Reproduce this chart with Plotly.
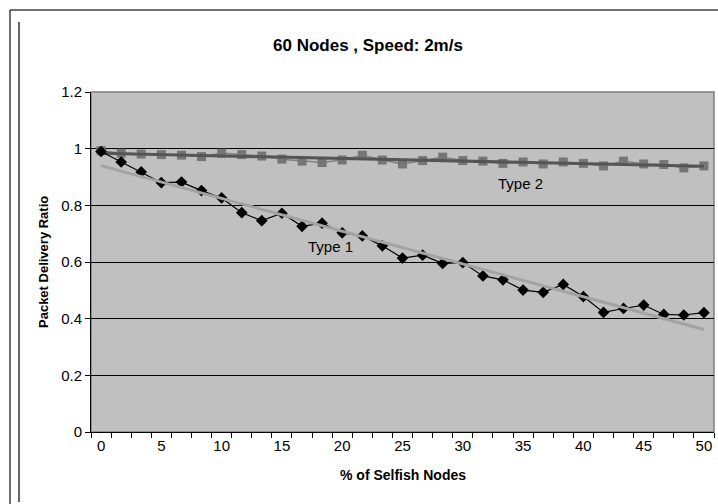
import numpy as np
import plotly.graph_objects as go

# % of selfish nodes (0..30 of 60 nodes)
pct = [0, 1.67, 3.33, 5, 6.67, 8.33, 10, 11.67, 13.33, 15, 16.67, 18.33, 20, 21.67, 23.33,
       25, 26.67, 28.33, 30, 31.67, 33.33, 35, 36.67, 38.33, 40, 41.67, 43.33, 45, 46.67, 48.33, 50]

type1 = [0.99, 0.953, 0.918, 0.88, 0.882, 0.852, 0.826, 0.774, 0.746, 0.772, 0.726, 0.737,
         0.703, 0.692, 0.657, 0.614, 0.624, 0.595, 0.598, 0.551, 0.537, 0.501, 0.493, 0.521,
         0.478, 0.422, 0.436, 0.448, 0.415, 0.413, 0.421]

type2 = [0.993, 0.984, 0.981, 0.979, 0.977, 0.972, 0.984, 0.979, 0.974, 0.963, 0.956, 0.951,
         0.960, 0.977, 0.960, 0.946, 0.958, 0.970, 0.958, 0.956, 0.948, 0.953, 0.946, 0.953,
         0.948, 0.939, 0.956, 0.946, 0.944, 0.932, 0.939]

x_ticks = [0, 5, 10, 15, 20, 25, 30, 35, 40, 45, 50]
y_ticks = [0, 0.2, 0.4, 0.6, 0.8, 1.0, 1.2]
y_labels = ["0", "0.2", "0.4", "0.6", "0.8", "1", "1.2"]

xa = np.array(pct)
fit1 = np.polyval(np.polyfit(xa, type1, 1), xa)
fit2 = np.polyval(np.polyfit(xa, type2, 1), xa)

FONT = "Liberation Sans, Arial, sans-serif"

fig = go.Figure()
fig.add_trace(go.Scatter(x=pct, y=type2, mode="lines+markers",
                         line=dict(color="#7f7f7f", width=1.5),
                         marker=dict(symbol="square", size=9, color="#767676"),
                         showlegend=False))
fig.add_trace(go.Scatter(x=pct, y=fit2, mode="lines",
                         line=dict(color="#555555", width=3), showlegend=False))
fig.add_trace(go.Scatter(x=pct, y=type1, mode="lines+markers",
                         line=dict(color="black", width=1.2),
                         marker=dict(symbol="diamond", size=9, color="black"),
                         showlegend=False))
fig.add_trace(go.Scatter(x=pct, y=fit1, mode="lines",
                         line=dict(color="#a3a3a3", width=3), showlegend=False))

W, H = 718, 504
L, R, T, B = 91, 4, 92, 72
pw = W - L - R
ph = H - T - B

def px(xpix):
    return (xpix - L) / pw

def py(ypix):
    return 1 - (ypix - T) / ph

fig.update_layout(
    width=W, height=H,
    margin=dict(l=L, r=R, t=T, b=B),
    paper_bgcolor="white",
    plot_bgcolor="#c0c0c0",
    font=dict(family=FONT, size=15, color="black"),
    xaxis=dict(range=[-5/6, 50 + 5/6], tickvals=x_ticks, ticktext=[str(v) for v in x_ticks],
               ticks="", showgrid=False, zeroline=False,
               showline=True, linecolor="black", linewidth=1,
               tickfont=dict(size=15),
               minor=dict(tickmode="linear", tick0=-5/6, dtick=5/3, ticks="outside",
                          ticklen=5, tickcolor="black", tickwidth=1, showgrid=False)),
    yaxis=dict(range=[0, 1.2], tickvals=y_ticks, ticktext=y_labels,
               ticks="outside", ticklen=5, tickcolor="black",
               showgrid=True, gridcolor="black", gridwidth=1, zeroline=False,
               showline=True, linecolor="black", linewidth=1,
               tickfont=dict(size=15)),
    shapes=[
        dict(type="rect", xref="paper", yref="paper", x0=0, x1=1, y0=0, y1=1,
             line=dict(color="#808080", width=1.5), layer="below"),
        dict(type="line", xref="paper", yref="paper", x0=px(10), x1=px(730), y0=py(10), y1=py(10),
             line=dict(color="#404040", width=1.5)),
        dict(type="line", xref="paper", yref="paper", x0=px(10), x1=px(10), y0=py(10), y1=py(520),
             line=dict(color="#404040", width=1.5)),
        dict(type="line", xref="paper", yref="paper", x0=px(19), x1=px(19), y0=py(22), y1=py(502),
             line=dict(color="black", width=1.2)),
    ],
    annotations=[
        dict(text="<b>60 Nodes , Speed: 2m/s</b>", xref="paper", yref="paper",
             x=px(368), y=py(45), showarrow=False, font=dict(size=17), xanchor="center", yanchor="middle"),
        dict(text="<b>% of Selfish Nodes</b>", xref="paper", yref="paper",
             x=px(403), y=py(475), showarrow=False, font=dict(size=14), xanchor="center", yanchor="middle"),
        dict(text="<b>Packet Delivery Ratio</b>", xref="paper", yref="paper",
             x=px(43), y=py(262), showarrow=False, font=dict(size=13), textangle=-90,
             xanchor="center", yanchor="middle"),
        dict(text="Type 1", xref="paper", yref="paper", x=px(330), y=py(247),
             showarrow=False, font=dict(size=15), xanchor="center", yanchor="middle"),
        dict(text="Type 2", xref="paper", yref="paper", x=px(520), y=py(184),
             showarrow=False, font=dict(size=15), xanchor="center", yanchor="middle"),
    ],
)

fig.write_html("out.html", config={"displayModeBar": False},
               post_script="document.body.style.margin='0';document.body.style.overflow='hidden';")
